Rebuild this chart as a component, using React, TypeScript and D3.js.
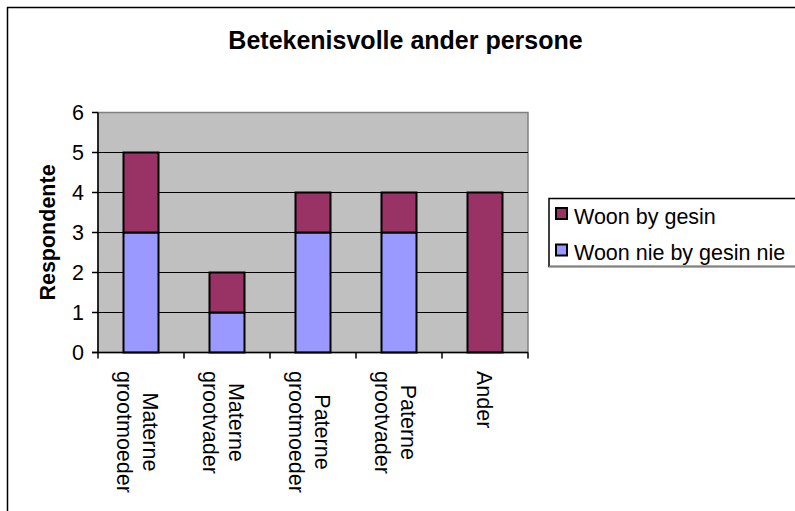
import React, { useEffect, useRef } from "react";
import * as d3 from "d3";

const title = "Betekenisvolle ander persone";
const yAxisTitle = "Respondente";
const categories = ["Materne\ngrootmoeder", "Materne\ngrootvader", "Paterne\ngrootmoeder", "Paterne\ngrootvader", "Ander"];
const seriesNames = ["Woon nie by gesin nie", "Woon by gesin"];
const woonNieByGesinNie = [3, 1, 3, 3, 0];
const woonByGesin = [2, 1, 1, 1, 4];
const yTicks = [0, 1, 2, 3, 4, 5, 6];
const colors = ["#9999FF", "#993366"];

const FONT = "'Liberation Sans', Arial, Helvetica, sans-serif";
const FS = 21.5;

export default function App() {
  const ref = useRef<SVGSVGElement>(null);

  useEffect(() => {
    const svg = d3.select(ref.current);
    svg.selectAll("*").remove();

    const left = 98, right = 528, top = 112.5, bottom = 352.5;

    // outer border
    svg.append("rect").attr("x", 7.5).attr("y", 7.5).attr("width", 820).attr("height", 540)
      .attr("fill", "white").attr("stroke", "black").attr("stroke-width", 1.5);

    svg.append("text").attr("x", 405.5).attr("y", 48.5).attr("text-anchor", "middle")
      .attr("font-family", FONT).attr("font-weight", "bold").attr("font-size", 25).text(title);

    const y = d3.scaleLinear().domain([0, 6]).range([bottom, top]);
    const x = d3.scaleBand<string>().domain(categories).range([left, right])
      .paddingInner(0.593).paddingOuter(0.2965);
    const xb = d3.scaleLinear().domain([0, categories.length]).range([left, right]);

    // plot area
    svg.append("rect").attr("x", left).attr("y", top).attr("width", right - left).attr("height", bottom - top)
      .attr("fill", "#C0C0C0").attr("stroke", "#808080").attr("stroke-width", 1.5);

    // gridlines
    svg.append("g").selectAll("line").data(yTicks.filter(t => t > 0 && t < 6)).join("line")
      .attr("x1", left).attr("x2", right).attr("y1", d => y(d)).attr("y2", d => y(d))
      .attr("stroke", "black").attr("stroke-width", 1);

    // bars
    const table = categories.map((c, i) => ({ cat: c, a: woonNieByGesinNie[i], b: woonByGesin[i] }));
    const stack = d3.stack<any>().keys(["a", "b"])(table);
    stack.forEach((s, si) => {
      svg.append("g").selectAll("rect").data(s.filter(d => d[1] - d[0] > 0)).join("rect")
        .attr("x", d => x(d.data.cat)!).attr("width", x.bandwidth())
        .attr("y", d => y(d[1])).attr("height", d => y(d[0]) - y(d[1]))
        .attr("fill", colors[si]).attr("stroke", "black").attr("stroke-width", 2);
    });

    // axes
    svg.append("line").attr("x1", left).attr("x2", left).attr("y1", top).attr("y2", bottom)
      .attr("stroke", "black").attr("stroke-width", 1.5);
    svg.append("line").attr("x1", left - 6).attr("x2", right).attr("y1", bottom).attr("y2", bottom)
      .attr("stroke", "black").attr("stroke-width", 1.5);

    // y ticks
    const yg = svg.append("g");
    yTicks.forEach(t => {
      yg.append("line").attr("x1", left - 6).attr("x2", left).attr("y1", y(t)).attr("y2", y(t))
        .attr("stroke", "black").attr("stroke-width", 1.5);
      yg.append("text").attr("x", 84).attr("y", y(t)).attr("dy", "0.36em").attr("text-anchor", "end")
        .attr("font-family", FONT).attr("font-size", FS).text(String(t));
    });

    // x ticks
    d3.range(categories.length + 1).forEach(i => {
      svg.append("line").attr("x1", xb(i)).attr("x2", xb(i)).attr("y1", bottom).attr("y2", bottom + 6)
        .attr("stroke", "black").attr("stroke-width", 1.5);
    });

    // x labels rotated
    categories.forEach((c, i) => {
      const cx = x(c)! + x.bandwidth() / 2;
      const lines = c.split("\n");
      const g = svg.append("g").attr("transform", `translate(${cx},371) rotate(90)`);
      const texts = lines.map((ln, li) => {
        const off = lines.length === 1 ? 8 : (li === 0 ? -2 : 24);
        return g.append("text").attr("y", off).attr("font-family", FONT).attr("font-size", FS).text(ln);
      });
      const widths = texts.map(t => (t.node() as SVGTextElement).getComputedTextLength());
      const maxW = Math.max(...widths);
      texts.forEach(t => t.attr("x", maxW / 2).attr("text-anchor", "middle"));
    });

    // y axis title
    svg.append("text").attr("transform", `translate(55,232.5) rotate(-90)`).attr("text-anchor", "middle")
      .attr("font-family", FONT).attr("font-weight", "bold").attr("font-size", FS).text(yAxisTitle);

    // legend
    svg.append("rect").attr("x", 549).attr("y", 198.5).attr("width", 260).attr("height", 68)
      .attr("fill", "white").attr("stroke", "black").attr("stroke-width", 1.5);
    svg.append("line").attr("x1", 549).attr("x2", 800).attr("y1", 266.5).attr("y2", 266.5)
      .attr("stroke", "#808080").attr("stroke-width", 1.5);
    const legendOrder = [1, 0];
    legendOrder.forEach((si, k) => {
      const cy = 214 + k * 36.5;
      svg.append("rect").attr("x", 556).attr("y", cy - 6).attr("width", 11).attr("height", 11)
        .attr("fill", colors[si]).attr("stroke", "black").attr("stroke-width", 2);
      svg.append("text").attr("x", 574).attr("y", cy + 9.5).attr("font-family", FONT).attr("font-size", FS)
        .text(seriesNames[si]);
    });
  }, []);

  return (
    <svg ref={ref} width={795} height={511}
      style={{ position: "absolute", left: 0, top: 0, background: "white" }} />
  );
}
